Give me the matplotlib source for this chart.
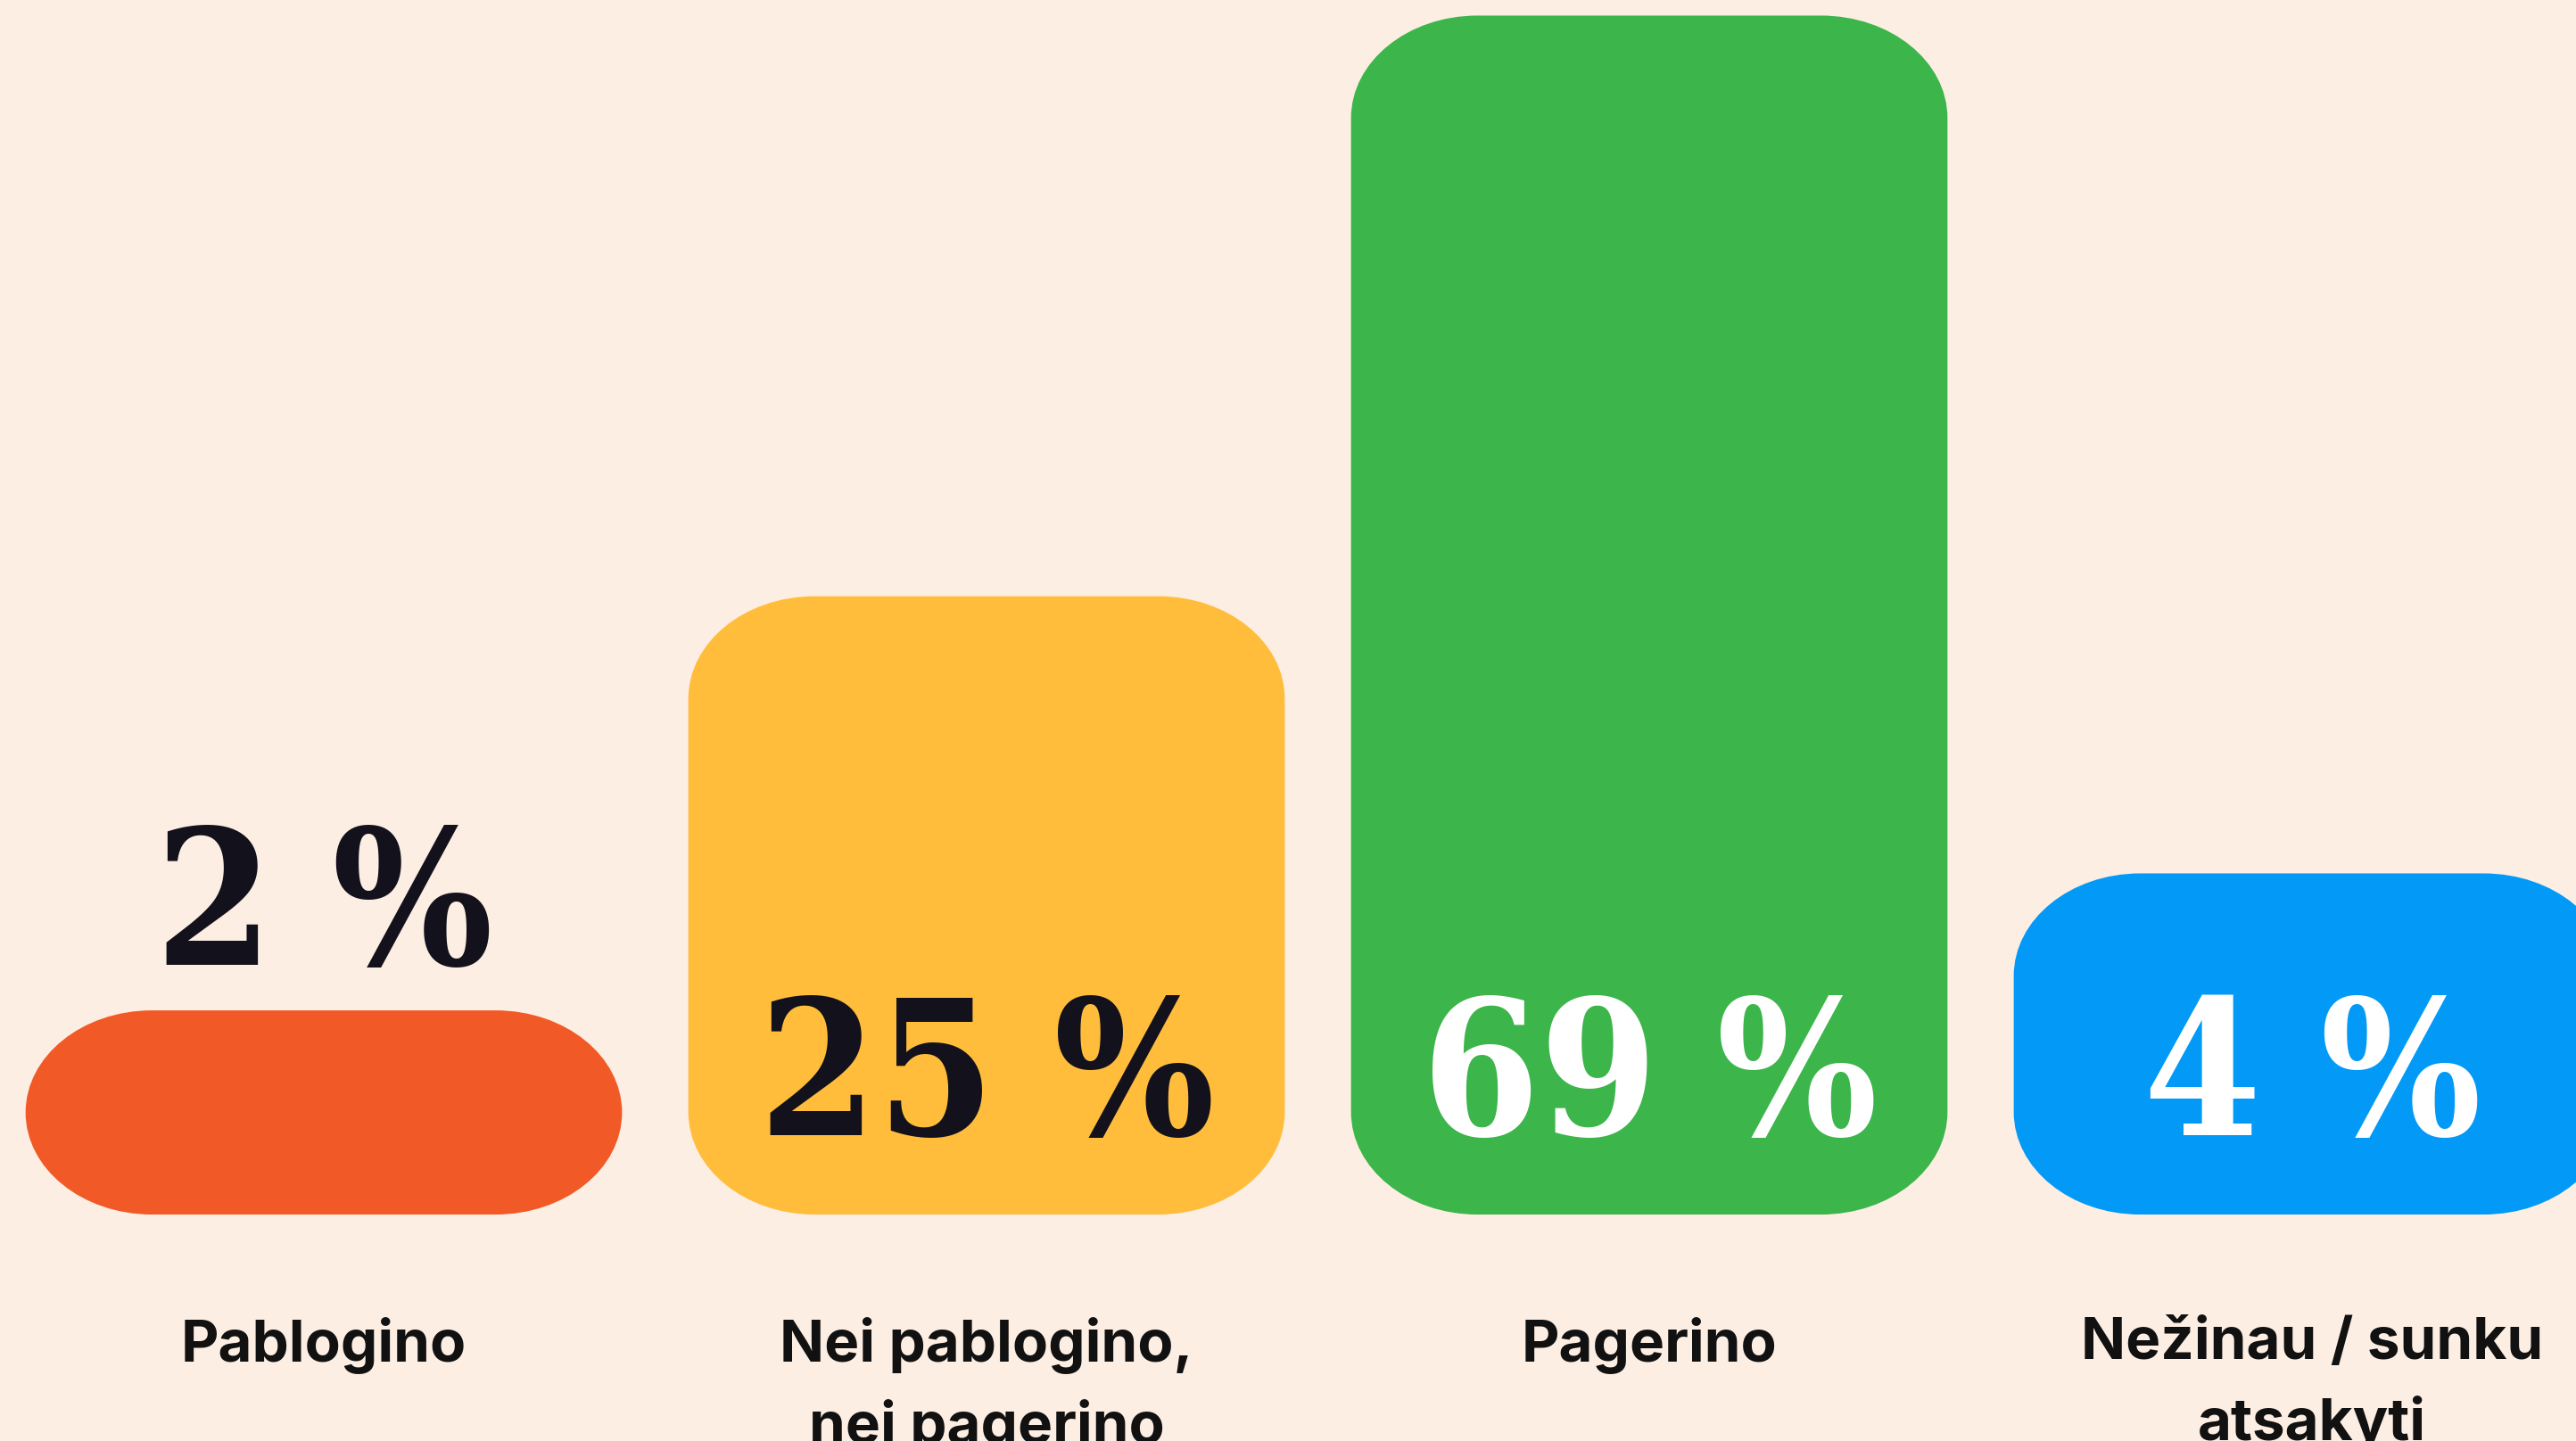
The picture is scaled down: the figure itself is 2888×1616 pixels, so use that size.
import matplotlib
matplotlib.use("Agg")
import matplotlib.pyplot as plt
from matplotlib.path import Path
from matplotlib.patches import PathPatch

# ---- data ----
categories = ["Pablogino", "Nei pablogino,\nnei pagerino", "Pagerino", "Nežinau / sunku\natsakyti"]
values = [2, 25, 69, 4]
value_labels = ["2 %", "25 %", "69 %", "4 %"]

# ---- style ----
BG = "#FDEEE3"
bar_colors = ["#F15A27", "#FFBD3B", "#3CB54B", "#039AF7"]
label_colors = ["#12111C", "#12111C", "#FFFFFF", "#FFFFFF"]
CAT_COLOR = "#111111"

LABEL_BAND = 21.85   # extra space inside a bar that holds its value label
MIN_PILL = 15.47     # minimum bar height when label sits outside
INSIDE_MIN = 3       # values below this get the label outside

fig = plt.figure(figsize=(14.44, 8.08), dpi=200, facecolor=BG)
ax = fig.add_axes([0, 0, 1, 1])
ax.set_facecolor(BG)
ax.set_xlim(-0.4886, 3.3984)
ax.set_ylim(-17.16, 92.03)
ax.axis("off")

x = list(range(len(categories)))
inside = [v >= INSIDE_MIN for v in values]
heights = [v + LABEL_BAND if ins else max(v, MIN_PILL) for v, ins in zip(values, inside)]
bars = ax.bar(x, heights, width=0.9, color=bar_colors)


def rounded_path(x0, y0, w, h, rx, ry):
    rx = min(rx, w / 2)
    ry = min(ry, h / 2)
    x1, y1 = x0 + w, y0 + h
    k = 0.5523
    verts = [
        (x0 + rx, y0), (x1 - rx, y0),
        (x1 - rx + k * rx, y0), (x1, y0 + ry - k * ry), (x1, y0 + ry),
        (x1, y1 - ry),
        (x1, y1 - ry + k * ry), (x1 - rx + k * rx, y1), (x1 - rx, y1),
        (x0 + rx, y1),
        (x0 + rx - k * rx, y1), (x0, y1 - ry + k * ry), (x0, y1 - ry),
        (x0, y0 + ry),
        (x0, y0 + ry - k * ry), (x0 + rx - k * rx, y0), (x0 + rx, y0),
        (x0 + rx, y0),
    ]
    codes = [Path.MOVETO, Path.LINETO,
             Path.CURVE4, Path.CURVE4, Path.CURVE4,
             Path.LINETO,
             Path.CURVE4, Path.CURVE4, Path.CURVE4,
             Path.LINETO,
             Path.CURVE4, Path.CURVE4, Path.CURVE4,
             Path.LINETO,
             Path.CURVE4, Path.CURVE4, Path.CURVE4,
             Path.CLOSEPOLY]
    return Path(verts, codes)


RX = 0.191   # corner radius in x data units
RY = 7.77    # corner radius in y data units
for rect, col in zip(bars, bar_colors):
    x0, y0 = rect.get_x(), rect.get_y()
    w, h = rect.get_width(), rect.get_height()
    rect.set_visible(False)
    ax.add_patch(PathPatch(rounded_path(x0, y0, w, h, RX, RY),
                           facecolor=col, edgecolor="none"))

# value labels
for xi, h, lab, col, ins in zip(x, heights, value_labels, label_colors, inside):
    y = 6.0 if ins else h + 3.45
    ax.text(xi, y, lab, ha="center", va="baseline", color=col,
            fontfamily="DejaVu Serif", fontweight="bold", fontstretch="condensed",
            fontsize=76)

# category labels
for xi, cat in zip(x, categories):
    ax.text(xi, -7.75, cat, ha="center", va="top", color=CAT_COLOR,
            fontfamily=["Inter", "Lato", "DejaVu Sans"], fontweight="bold",
            fontsize=23.6, linespacing=1.56)

fig.savefig("out.png", dpi=200, facecolor=BG)
